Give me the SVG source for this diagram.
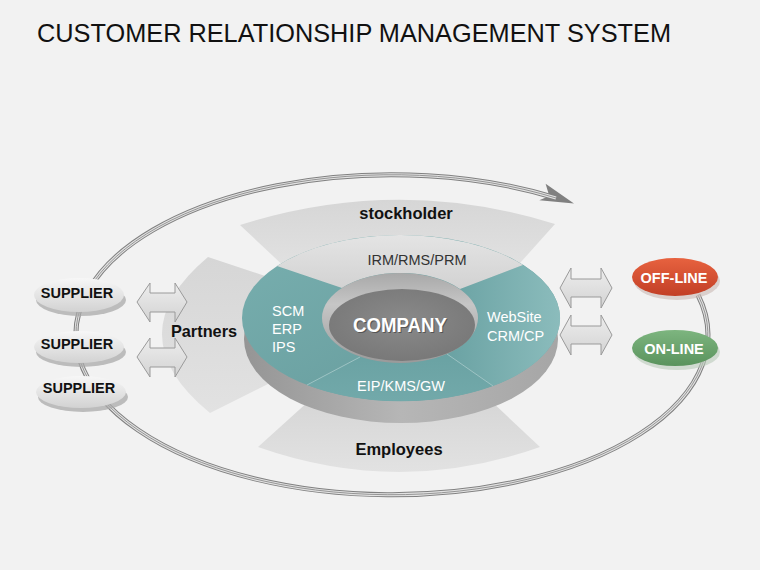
<svg xmlns="http://www.w3.org/2000/svg" width="760" height="570" viewBox="0 0 760 570">
<style>
text{font-family:"Liberation Sans",Arial,sans-serif}
.b{font-weight:bold}
.band{fill:url(#bandG)}
.sup{fill:url(#supG)}
.supS{fill:#a9a9a9;opacity:.75}
.dbl{fill:url(#arrG);stroke:#9a9a9a;stroke-width:1}
.wt{fill:#fff;font-size:14.5px}
</style>
<defs>
<linearGradient id="bandG" x1="0" y1="0" x2="0" y2="1"><stop offset="0" stop-color="#d6d6d6"/><stop offset="1" stop-color="#e2e2e2"/></linearGradient>
<linearGradient id="supG" x1="0" y1="0" x2="0" y2="1"><stop offset="0" stop-color="#f7f7f7"/><stop offset="1" stop-color="#d2d2d2"/></linearGradient>
<linearGradient id="arrG" x1="0" y1="0" x2="0" y2="1"><stop offset="0" stop-color="#ededed"/><stop offset="1" stop-color="#d3d3d3"/></linearGradient>
<linearGradient id="sideG" x1="0" y1="0" x2="1" y2="0"><stop offset="0" stop-color="#959595"/><stop offset=".5" stop-color="#b6b6b6"/><stop offset="1" stop-color="#a6a6a6"/></linearGradient>
<linearGradient id="tealG" x1="0" y1="0" x2="1" y2="1"><stop offset="0" stop-color="#78afaf"/><stop offset="1" stop-color="#64999a"/></linearGradient>
<linearGradient id="tealR" x1="0" y1="0" x2="1" y2="0"><stop offset="0" stop-color="#6aa2a3"/><stop offset="1" stop-color="#8bbcbc"/></linearGradient>
<linearGradient id="tealB" x1="0" y1="0" x2="0" y2="1"><stop offset="0" stop-color="#6aa2a3"/><stop offset="1" stop-color="#72a9aa"/></linearGradient>
<linearGradient id="grayS" x1="0" y1="0" x2="0" y2="1"><stop offset="0" stop-color="#e4e4e4"/><stop offset="1" stop-color="#d2d2d2"/></linearGradient>
<linearGradient id="rimG" x1="0" y1="0" x2="0" y2="1"><stop offset="0" stop-color="#a8a8a8"/><stop offset=".35" stop-color="#c6c6c6"/><stop offset="1" stop-color="#9a9a9a"/></linearGradient>
<radialGradient id="floorG" cx=".5" cy=".45" r=".6"><stop offset="0" stop-color="#8a8a8a"/><stop offset="1" stop-color="#777"/></radialGradient>
<linearGradient id="redG" x1="0" y1="0" x2="0" y2="1"><stop offset="0" stop-color="#e7623f"/><stop offset="1" stop-color="#c23f26"/></linearGradient>
<linearGradient id="greenG" x1="0" y1="0" x2="0" y2="1"><stop offset="0" stop-color="#7db57f"/><stop offset="1" stop-color="#5a935d"/></linearGradient>
<marker id="ah" markerUnits="userSpaceOnUse" markerWidth="40" markerHeight="30" refX="0" refY="0" viewBox="-14 -12 34 24" orient="auto" overflow="visible">
<path d="M-12,-9 L16,0 L-13,6 L-6,0 Z" fill="#808080"/>
</marker>
</defs>
<rect width="760" height="570" fill="#f2f2f2"/>
<text id="title" x="37" y="42" font-size="25.5" textLength="634" lengthAdjust="spacingAndGlyphs" fill="#111">CUSTOMER RELATIONSHIP MANAGEMENT SYSTEM</text>

<g id="stockholder">
<path class="band" d="M240 225 Q398 175 555 224 L512 272 L290 272 Z"/>
<text class="b" x="406" y="219" font-size="16.5" text-anchor="middle" fill="#111">stockholder</text>
</g>
<g id="partners">
<path class="band" d="M208 257 L292 285 L292 372 L210 413 Q115 335 208 257 Z"/>
</g>
<g id="employees">
<path class="band" d="M258 447 L310 400 L490 400 L540 447 Q400 497 258 447 Z"/>
<text class="b" x="399" y="455" font-size="16.5" text-anchor="middle" fill="#111">Employees</text>
</g>

<g id="ring">
<ellipse cx="401" cy="339" rx="157" ry="84" fill="url(#sideG)"/>
<ellipse cx="401" cy="318" rx="159" ry="83" fill="url(#tealG)"/>
<path d="M493 386 L447 354 A78 45 0 0 0 460 289 L523 265 A159 83 0 0 1 493 386 Z" fill="url(#tealR)"/>
<path d="M307 385 A159 83 0 0 0 493 386 L447 354 A78 45 0 0 1 360 357 Z" fill="url(#tealB)"/>
<path d="M277 266 A159 83 0 0 1 523 265 L460 289 A78 45 0 0 0 342 288 Z" fill="url(#grayS)"/>
<g stroke="#b9d6d6" stroke-width="0.8" opacity=".8">
<line x1="360" y1="357" x2="307" y2="385"/>
<line x1="447" y1="354" x2="493" y2="386"/>
</g>
<text x="417" y="265" font-size="14.5" text-anchor="middle" fill="#333">IRM/RMS/PRM</text>
<text class="wt" x="272" y="316">SCM</text>
<text class="wt" x="272" y="334">ERP</text>
<text class="wt" x="272" y="352">IPS</text>
<text class="wt" x="487" y="322">WebSite</text>
<text class="wt" x="487" y="341">CRM/CP</text>
<text class="wt" x="401" y="391" text-anchor="middle">EIP/KMS/GW</text>
</g>

<g id="company">
<ellipse cx="400" cy="318" rx="78" ry="45" fill="url(#rimG)"/>
<ellipse cx="402" cy="325" rx="73" ry="36" fill="url(#floorG)"/>
<text class="b" x="401" y="333" font-size="19.5" text-anchor="middle" textLength="94" lengthAdjust="spacingAndGlyphs" fill="#555">COMPANY</text>
<text class="b" x="400" y="332" font-size="19.5" text-anchor="middle" textLength="94" lengthAdjust="spacingAndGlyphs" fill="#fff">COMPANY</text>
</g>

<g id="connectors">
<g id="loop" fill="none">
<path d="M698 295 A316 160 0 1 1 556 198" stroke="#808080" stroke-width="5" marker-end="url(#ah)"/>
<path d="M698 295 A316 160 0 1 1 556 198" stroke="#e2e2e2" stroke-width="3"/>
<path d="M698 295 A316 160 0 1 1 556 198" stroke="#8c8c8c" stroke-width="0.9"/>
</g>
<g id="arrows-left">
<path class="dbl" d="M137 302 L150 283 L150 293 L175 293 L175 283 L187 302 L175 322 L175 312 L150 312 L150 322 Z"/>
<path class="dbl" d="M137 357 L150 338 L150 348 L175 348 L175 338 L187 357 L175 377 L175 367 L150 367 L150 377 Z"/>
</g>
<g id="arrows-right">
<path class="dbl" d="M560 288 L571 268 L571 279 L601 279 L601 268 L612 288 L601 308 L601 297 L571 297 L571 308 Z"/>
<path class="dbl" d="M560 335 L571 315 L571 326 L601 326 L601 315 L612 335 L601 355 L601 344 L571 344 L571 355 Z"/>
</g>
</g>

<text class="b" x="204" y="337" font-size="16.3" text-anchor="middle" fill="#111">Partners</text>

<g id="supplier1">
<ellipse class="supS" cx="81" cy="300" rx="45" ry="16"/>
<ellipse class="sup" cx="79" cy="295" rx="45" ry="17"/>
<text class="b" x="77" y="298" font-size="14.5" text-anchor="middle" fill="#111">SUPPLIER</text>
</g>
<g id="supplier2">
<ellipse class="supS" cx="81" cy="352" rx="45" ry="15"/>
<ellipse class="sup" cx="79" cy="347" rx="45" ry="16"/>
<text class="b" x="77" y="349" font-size="14.5" text-anchor="middle" fill="#111">SUPPLIER</text>
</g>
<g id="supplier3">
<ellipse class="supS" cx="83" cy="397" rx="45" ry="15"/>
<ellipse class="sup" cx="81" cy="392" rx="45" ry="16"/>
<text class="b" x="79" y="393" font-size="14.5" text-anchor="middle" fill="#111">SUPPLIER</text>
</g>

<g id="offline">
<ellipse cx="677" cy="281" rx="43" ry="19" fill="#c9b9b4" opacity=".6"/>
<ellipse cx="675" cy="277" rx="43" ry="19" fill="url(#redG)"/>
<text class="b" x="674" y="283" font-size="14.5" text-anchor="middle" fill="#fff">OFF-LINE</text>
</g>
<g id="online">
<ellipse cx="677" cy="352" rx="43" ry="18" fill="#b9c9b9" opacity=".6"/>
<ellipse cx="675" cy="348" rx="43" ry="18" fill="url(#greenG)"/>
<text class="b" x="674" y="354" font-size="14.5" text-anchor="middle" fill="#fff">ON-LINE</text>
</g>
</svg>
